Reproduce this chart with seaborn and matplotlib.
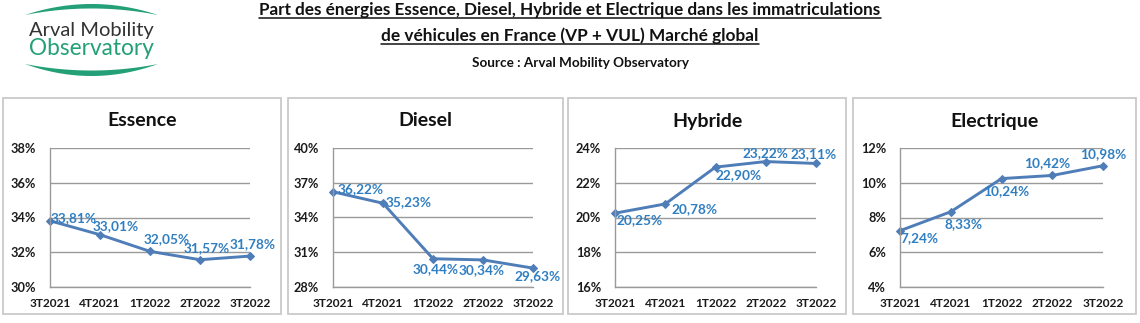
import numpy as np
import pandas as pd
import matplotlib
matplotlib.use("Agg")
import matplotlib.pyplot as plt
import seaborn as sns
from matplotlib.patches import Rectangle, Polygon
from matplotlib.lines import Line2D
from matplotlib.ticker import FuncFormatter

# ---- data -----------------------------------------------------------------
quarters = ["3T2021", "4T2021", "1T2022", "2T2022", "3T2022"]
essence = [33.81, 33.01, 32.05, 31.57, 31.78]
diesel = [36.22, 35.23, 30.44, 30.34, 29.63]
hybride = [20.25, 20.78, 22.90, 23.22, 23.11]
electrique = [7.24, 8.33, 10.24, 10.42, 10.98]

panel_titles = ["Essence", "Diesel", "Hybride", "Electrique"]
panel_series = [essence, diesel, hybride, electrique]
y_ranges = [(30, 38, 2), (28, 40, 3), (16, 24, 2), (4, 12, 2)]

# label offsets in pixels (dx, dy with dy positive = up), centred text
label_offsets = [
    [(24, 3), (16, 9), (17, 12), (7, 12), (3, 12)],
    [(28, 3), (26, 1), (3, -10), (-1, -10), (5, -8)],
    [(25, -7), (29, -5), (23, -8), (0, 8), (-2, 9)],
    [(19, -7), (13, -12), (5, -12), (-5, 12), (0, 12)],
]

# ---- styling --------------------------------------------------------------
W, H = 1140, 323
sns.set_style("white")
plt.rcParams["font.family"] = ["Lato", "DejaVu Sans"]

LINE = "#4F7DB8"
LABEL = "#2F7EC1"
GRID = "#9A9A9A"
FRAME = "#C9C9C9"
GREEN = "#23A077"

fig = plt.figure(figsize=(W / 100, H / 100), dpi=100)
fig.patch.set_facecolor("white")


def fx(px):
    return px / W


def fy(py):
    return 1 - py / H


# panel frames and axes boxes (pixel layout)
frames = [(3, 98, 281, 314), (288, 98, 563, 314), (568, 98, 846, 314), (853, 98, 1136, 314)]
axes_px = [(50, 148, 250, 287), (333, 148, 533, 287), (615, 148, 816, 287), (900, 148, 1103, 287)]

for (x0, y0, x1, y1) in frames:
    fig.patches.append(Rectangle((fx(x0), fy(y1)), fx(x1 - x0), (y1 - y0) / H,
                                 transform=fig.transFigure, fill=False,
                                 edgecolor=FRAME, linewidth=1.3))

for i, (title, vals, (lo, hi, step), offs) in enumerate(
        zip(panel_titles, panel_series, y_ranges, label_offsets)):
    x0, y0, x1, y1 = axes_px[i]
    ax = fig.add_axes([fx(x0), fy(y1), fx(x1 - x0), (y1 - y0) / H])
    df = pd.DataFrame({"quarter": quarters, "pos": np.arange(len(quarters)), "value": vals})
    sns.lineplot(data=df, x="pos", y="value", ax=ax, color=LINE, linewidth=2.1,
                 marker="D", markersize=4.5, markeredgecolor=LINE, clip_on=False)
    ax.set_xlim(0, len(quarters) - 1)
    ax.set_ylim(lo, hi)
    ax.set_yticks(np.arange(lo, hi + 0.01, step))
    ax.yaxis.set_major_formatter(FuncFormatter(lambda v, p: f"{v:.0f}%"))
    ax.set_xticks(df["pos"])
    ax.set_xticklabels(quarters)
    ax.set_xlabel("")
    ax.set_ylabel("")
    ax.grid(axis="y", color=GRID, linewidth=1.0)
    ax.grid(axis="x", visible=False)
    ax.set_axisbelow(True)
    for s in ("top", "right"):
        ax.spines[s].set_visible(False)
    for s in ("left", "bottom"):
        ax.spines[s].set_color(GRID)
        ax.spines[s].set_linewidth(1.0)
    ax.tick_params(axis="both", which="major", direction="out", length=4,
                   color=GRID, width=1.0, pad=6)
    ax.tick_params(axis="y", labelsize=9.2)
    ax.tick_params(axis="x", labelsize=8.6, pad=4)
    for lab in ax.get_xticklabels() + ax.get_yticklabels():
        lab.set_fontweight("bold")
        lab.set_color("#1A1A1A")
    ax.set_facecolor("none")
    # data labels
    for xpos, v, (dx, dy) in zip(df["pos"], vals, offs):
        ax.annotate(f"{v:.2f}".replace(".", ",") + "%", (xpos, v),
                    xytext=(dx * 0.72, dy * 0.72), textcoords="offset points",
                    ha="center", va="center", color=LABEL, fontsize=9.8,
                    fontweight="bold", annotation_clip=False)
    # panel title
    fcx = (frames[i][0] + frames[i][2]) / 2
    fig.text(fx(fcx), fy(121), title, ha="center", va="center",
             fontsize=14, fontweight="bold", color="#111111")

# ---- header ---------------------------------------------------------------
renderer = fig.canvas.get_renderer()


def fit_text(x, y, s, target_w, underline=False, **kw):
    t = fig.text(fx(x), fy(y), s, **kw)
    size = kw.get("fontsize", 12)
    for _ in range(3):
        bb = t.get_window_extent(renderer=renderer)
        size *= target_w / bb.width
        t.set_fontsize(size)
    if underline:
        bb = t.get_window_extent(renderer=renderer)
        uy = bb.y0 + 0.5
        fig.add_artist(Line2D([bb.x0 / W, bb.x1 / W], [uy / H, uy / H],
                              transform=fig.transFigure, color=t.get_color(),
                              linewidth=1.1))
    return t


fit_text(570, 15, "Part des énergies Essence, Diesel, Hybride et Electrique dans les immatriculations",
         624, underline=True, ha="center", va="baseline", fontweight="bold",
         fontsize=12, color="#111111")
fit_text(570, 41, "de véhicules en France (VP + VUL) Marché global",
         375, underline=True, ha="center", va="baseline", fontweight="bold",
         fontsize=12, color="#111111")
fit_text(581, 67, "Source : Arval Mobility Observatory", 217,
         ha="center", va="baseline", fontweight="bold", fontsize=8, color="#111111")

# logo: two green crescents and two lines of text
def crescent(xa, xb, y_end, y_outer, y_inner, n=60):
    t = np.linspace(-1, 1, n)
    xs = xa + (t + 1) / 2 * (xb - xa)
    outer = y_end + (y_outer - y_end) * (1 - t ** 2)
    inner = y_end + (y_inner - y_end) * (1 - t ** 2)
    pts = [(fx(a), fy(b)) for a, b in zip(xs, outer)] + \
          [(fx(a), fy(b)) for a, b in zip(xs[::-1], inner[::-1])]
    fig.patches.append(Polygon(pts, closed=True, transform=fig.transFigure,
                               facecolor=GREEN, edgecolor="none"))


crescent(25, 158, 15, 4, 8.5)
crescent(25, 158, 64, 76, 70.5)
fit_text(91, 36, "Arval Mobility", 125, ha="center", va="baseline",
         fontsize=12, color="#333333", fontweight="normal")
fit_text(91, 55, "Observatory", 125, ha="center", va="baseline",
         fontsize=12, color=GREEN, fontweight="normal")

fig.savefig("out.png", dpi=100, facecolor="white")
